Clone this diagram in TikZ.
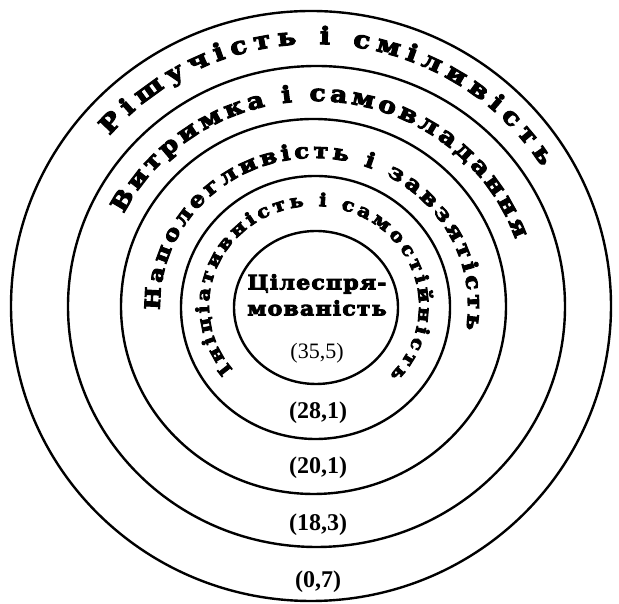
\documentclass[tikz,border=0pt]{standalone}
\usepackage{fontspec}
\setmainfont{Liberation Serif}
\newfontfamily\ringfont[FakeBold=4.5,FakeStretch=1.15]{DejaVu Serif Bold}
\newfontfamily\corefont[LetterSpace=6,FakeBold=4.5,FakeStretch=1.1]{DejaVu Serif Bold}
\newcommand\ringA{\ringfont\fontsize{24}{24}\selectfont}
\newcommand\ringB{\ringfont\fontsize{23}{23}\selectfont}
\newcommand\ringC{\ringfont\fontsize{21}{21}\selectfont}
\newcommand\ringD{\ringfont\fontsize{18}{18}\selectfont}
\usetikzlibrary{decorations.text}

\begin{document}
\begin{tikzpicture}[x=1pt, y=1pt,
  ring/.style={draw=black, line width=2.4pt},
  val/.style={font=\fontsize{24}{26}\selectfont\bfseries, inner sep=0pt},
  core/.style={font=\corefont\fontsize{20}{26}\selectfont, align=center, inner sep=0pt},
  arctext/.style={decorate, decoration={text along path, text align={fit to path}, text={#1}}}
]
  \useasboundingbox (0,0) rectangle (619,604);
  \coordinate (mid) at (314,298);

  \draw[ring] (311,298) ellipse[x radius=300, y radius=295];
  \draw[ring] (316.5,297.5) ellipse[x radius=248.5, y radius=240.5];
  \draw[ring] (313.5,297.5) ellipse[x radius=192.5, y radius=187.5];
  \draw[ring] (315.5,296.5) ellipse[x radius=134.5, y radius=131.5];
  \draw[ring] (316,296.5) ellipse[x radius=82, y radius=76.5];

  \path[arctext={|\ringA|Рішучість і сміливість}]
    ([shift={(139.5:269 and 262)}]mid) arc[start angle=139.5, end angle=32, x radius=269, y radius=262];
  \path[arctext={|\ringB|Витримка і самовладання}]
    ([shift={(153.3:213 and 205)}]mid) arc[start angle=153.3, end angle=19, x radius=213, y radius=205];
  \path[arctext={|\ringC|Наполегливість і завзятість}]
    ([shift={(181.6:154 and 148)}]mid) arc[start angle=181.6, end angle=-9.2, x radius=154, y radius=148];
  \path[arctext={|\ringD|Ініціативність і самостійність}]
    ([shift={(219.5:105 and 100)}]mid) arc[start angle=219.5, end angle=-44, x radius=105, y radius=100];

  \node[core] (core) at (317,309) {Цілеспря-\\мованість};
  \node[font=\fontsize{22}{24}\selectfont, inner sep=0pt] (v5) at (317,251) {(35,5)};
  \node[val] (v4) at (318,191) {(28,1)};
  \node[val] (v3) at (318,136) {(20,1)};
  \node[val] (v2) at (318,79) {(18,3)};
  \node[val] (v1) at (318,22) {(0,7)};
\end{tikzpicture}
\end{document}
